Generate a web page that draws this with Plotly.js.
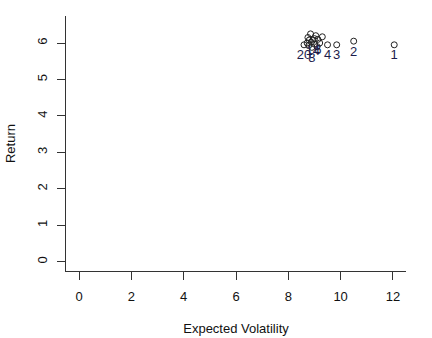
<!DOCTYPE html>
<html>
<head>
<meta charset="utf-8">
<script src="https://cdn.plot.ly/plotly-3.0.1.min.js"></script>
<style>html,body{margin:0;padding:0;background:#fff;}#chart{width:432px;height:338px;}</style>
</head>
<body>
<div id="chart"></div>
<script>
// Expected volatility (x) and return (y) for 20 portfolios
var volatility = [12.05, 10.5, 9.85, 9.5, 8.85, 9.13, 8.75, 8.9, 9.05, 9.3, 8.72, 8.88, 9.0, 8.94, 9.2, 8.8, 9.1, 9.0, 8.78, 8.6];
var returns    = [5.95, 6.05, 5.95, 5.95, 6.25, 6.10, 6.15, 5.88, 6.20, 6.17, 6.00, 6.02, 5.97, 6.08, 6.00, 6.08, 5.90, 6.12, 5.93, 5.95];
var pointLabels = ['1','2','3','4','','6','','8','','','','','','14','','','','','','20'];
var xTicks = [0, 2, 4, 6, 8, 10, 12];
var yTicks = [0, 1, 2, 3, 4, 5, 6];

var font = 'Liberation Sans, Arial, sans-serif';
var trace = {
  x: volatility, y: returns, text: pointLabels,
  type: 'scatter', mode: 'markers+text',
  marker: {symbol: 'circle-open', size: 6, color: '#222', line: {width: 1, color: '#222'}},
  textposition: 'bottom center',
  textfont: {family: font, size: 13, color: '#1c1c4c'},
  cliponaxis: false, hoverinfo: 'none'
};
var axisCommon = {
  showgrid: false, zeroline: false, showline: true, linecolor: '#333', linewidth: 1,
  ticks: 'outside', ticklen: 8, tickwidth: 1, tickcolor: '#333',
  tickfont: {family: font, size: 13, color: '#111'}
};
var layout = {
  width: 432, height: 338,
  margin: {l: 66, r: 26, t: 16, b: 67},
  paper_bgcolor: '#fff', plot_bgcolor: '#fff',
  showlegend: false,
  xaxis: Object.assign({}, axisCommon, {
    range: [-0.5, 12.5], tickmode: 'array', tickvals: xTicks, ticktext: xTicks.map(String),
    ticklabelstandoff: 5,
    title: {text: 'Expected Volatility', font: {family: font, size: 13, color: '#111'}, standoff: 21}
  }),
  yaxis: Object.assign({}, axisCommon, {
    range: [-0.25, 6.74], tickmode: 'array', tickvals: yTicks, ticktext: yTicks.map(String),
    tickangle: -90, ticklabelstandoff: 5,
    title: {text: 'Return', font: {family: font, size: 13, color: '#111'}, standoff: 16}
  })
};
Plotly.newPlot('chart', [trace], layout, {staticPlot: true, displayModeBar: false});
</script>
</body>
</html>
